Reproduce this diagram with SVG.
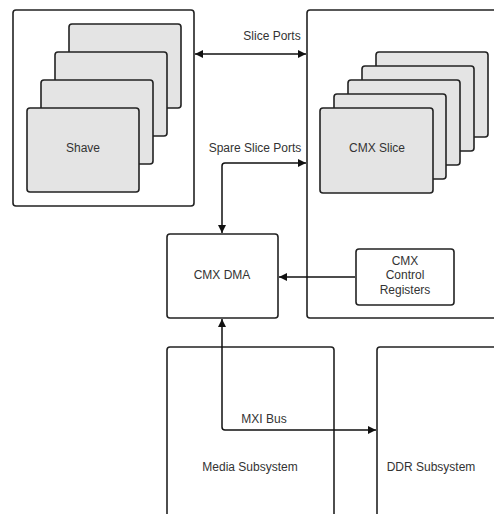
<svg xmlns="http://www.w3.org/2000/svg" width="494" height="514" viewBox="0 0 494 514">
<defs>
<marker id="ah" viewBox="0 0 10 10" refX="10" refY="5" markerWidth="10" markerHeight="8" markerUnits="userSpaceOnUse" orient="auto-start-reverse">
<path d="M0,0 L10,5 L0,10 z" fill="#111"/>
</marker>
<style>
.box{fill:#fff;stroke:#222;stroke-width:1.6}
.card{fill:#e4e4e4;stroke:#222;stroke-width:1.6}
.t{font-family:"Liberation Sans",Arial,sans-serif;font-size:12px;fill:#333;text-anchor:middle;dominant-baseline:central}
.c{fill:none;stroke:#111;stroke-width:1.5}
</style>
</defs>
<rect width="494" height="514" fill="#fff"/>
<g id="shave-group">
<rect class="box" x="13" y="10" width="181" height="196" rx="3"/>
<rect class="card" x="69" y="24" width="112" height="84" rx="3"/>
<rect class="card" x="55" y="52" width="112" height="84" rx="3"/>
<rect class="card" x="41" y="80" width="112" height="84" rx="3"/>
<rect class="card" x="27" y="108" width="112" height="84" rx="3"/>
<text class="t" x="83" y="148">Shave</text>
</g>
<g id="cmx">
<rect class="box" x="307" y="10" width="200" height="308" rx="3"/>
<rect class="card" x="376" y="52" width="112" height="85" rx="3"/>
<rect class="card" x="362" y="66" width="112" height="85" rx="3"/>
<rect class="card" x="348" y="80" width="112" height="85" rx="3"/>
<rect class="card" x="334" y="94" width="112" height="85" rx="3"/>
<rect class="card" x="320" y="108" width="113" height="85" rx="3"/>
<text class="t" x="377" y="148">CMX Slice</text>
</g>
<g id="cmx-dma">
<rect class="box" x="167" y="234" width="111" height="84" rx="3"/>
<text class="t" x="222" y="275">CMX DMA</text>
</g>
<g id="cmx-ctrl">
<rect class="box" x="356" y="249" width="98" height="56" rx="3"/>
<text class="t" x="405" y="261">CMX</text>
<text class="t" x="405" y="275">Control</text>
<text class="t" x="405" y="290">Registers</text>
</g>
<g id="media">
<rect class="box" x="167" y="347" width="167" height="180" rx="3"/>
<text class="t" x="250" y="467">Media Subsystem</text>
</g>
<g id="ddr">
<rect class="box" x="377" y="347" width="140" height="180" rx="3"/>
<text class="t" x="431" y="467">DDR Subsystem</text>
</g>
<g id="connectors">
<path class="c" d="M195,54 L306,54" marker-start="url(#ah)" marker-end="url(#ah)"/>
<text class="t" x="272" y="36">Slice Ports</text>
<path class="c" d="M222,233 L222,166 Q222,163 225,163 L306,163" marker-start="url(#ah)" marker-end="url(#ah)"/>
<text class="t" x="255" y="148">Spare Slice Ports</text>
<path class="c" d="M355,277 L279,277" marker-end="url(#ah)"/>
<path class="c" d="M222,319 L222,427 Q222,430 225,430 L376,430" marker-start="url(#ah)" marker-end="url(#ah)"/>
<text class="t" x="264" y="419">MXI Bus</text>
</g>
</svg>
